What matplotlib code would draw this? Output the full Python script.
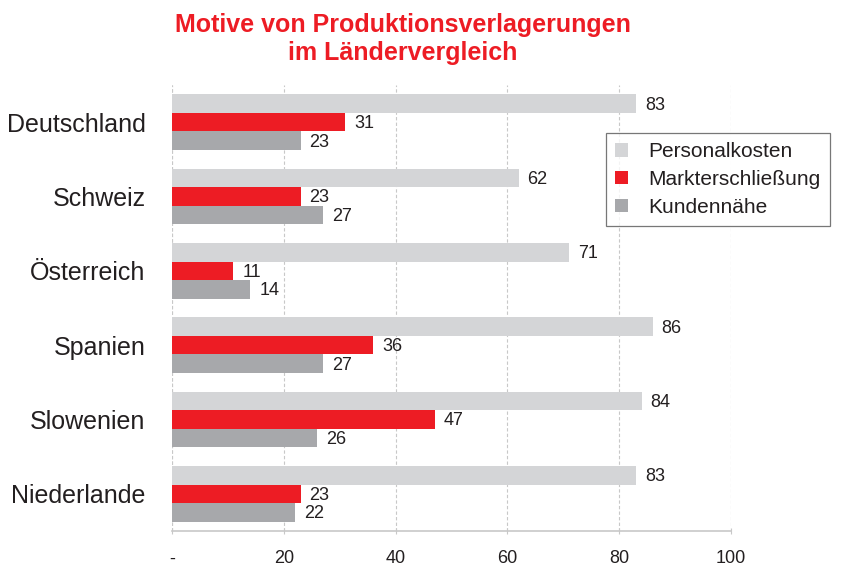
import numpy as np
import matplotlib
matplotlib.use('Agg')
import matplotlib.pyplot as plt
from matplotlib.patches import Patch

plt.rcParams['font.family'] = ['Liberation Sans', 'DejaVu Sans']

#### data
countries = ['Deutschland', 'Schweiz', 'Österreich', 'Spanien', 'Slowenien', 'Niederlande']
personalkosten = [83, 62, 71, 86, 84, 83]
markterschliessung = [31, 23, 11, 36, 47, 23]
kundennaehe = [23, 27, 14, 27, 26, 22]
series_names = ['Personalkosten', 'Markterschließung', 'Kundennähe']
xticks = [0, 20, 40, 60, 80, 100]
xtick_labels = ['-', '20', '40', '60', '80', '100']

colors = ['#d4d5d7', '#ed1c24', '#a7a8ab']
txt = '#231f20'

fig = plt.figure(figsize=(8.43, 5.70), dpi=100)
ax = fig.add_axes([172/843, 39/570, (731-172)/843, (531-85)/570])

y = np.arange(len(countries))
h = 0.25
for i, (vals, c) in enumerate(zip([personalkosten, markterschliessung, kundennaehe], colors)):
    pos = y + (i - 1) * h
    ax.barh(pos, vals, height=h, color=c, edgecolor='none', zorder=3)
    for p, v in zip(pos, vals):
        ax.text(v + 1.6, p + 0.02, str(v), va='center', ha='left', fontsize=13, color=txt)

ax.set_xlim(0, 100)
ax.set_ylim(len(countries) - 0.5, -0.5)
ax.set_yticks(y)
ax.set_yticklabels(countries, fontsize=18, color=txt)
ax.tick_params(axis='y', length=0, pad=19)
ax.set_xticks(xticks)
ax.set_xticklabels(xtick_labels, fontsize=13, color=txt)
ax.tick_params(axis='x', length=4, direction='inout', color='#c8c8c8', pad=12)

ax.grid(axis='x', linestyle=(0, (3, 2)), color='#c8c8c8', linewidth=0.8, zorder=0)
for s in ['top', 'right', 'left']:
    ax.spines[s].set_visible(False)
ax.spines['bottom'].set_color('#c8c8c8')
ax.spines['bottom'].set_linewidth(1.2)
ax.axvline(0, linestyle=(0, (3, 2)), color='#c8c8c8', linewidth=0.8, zorder=0)

handles = [Patch(facecolor=c, edgecolor='none') for c in colors]
leg = fig.legend(handles, series_names, loc='upper left',
                 bbox_to_anchor=(606/843, 1 - 133/570), fontsize=15,
                 frameon=True, fancybox=False, edgecolor='#555555',
                 handlelength=0.6, handleheight=0.6, handletextpad=1.0,
                 labelspacing=0.42, borderpad=0.45, borderaxespad=0, labelcolor=txt)
leg.get_frame().set_linewidth(0.9)

fig.text(0.478, 0.978, 'Motive von Produktionsverlagerungen\nim Ländervergleich',
         ha='center', va='top', fontsize=18, fontweight='bold', color='#ed1c24',
         linespacing=1.25)

fig.savefig('out.png', dpi=100)
